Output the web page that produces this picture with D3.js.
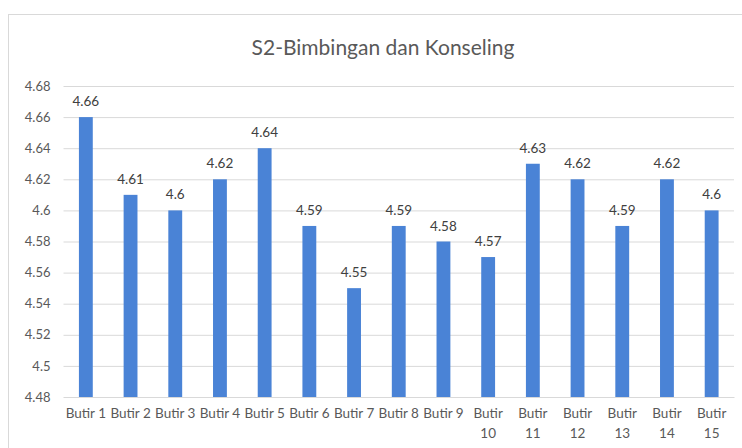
<!DOCTYPE html>
<html><head><meta charset="utf-8">
<script src="https://cdn.jsdelivr.net/npm/d3@7"></script>
<style>body{margin:0;background:#fff}svg{display:block}text{font-family:Lato,"Liberation Sans",sans-serif}</style>
</head><body>
<svg id="c" width="742" height="448"></svg>
<script>
const title = "S2-Bimbingan dan Konseling";
const categories = ["Butir 1","Butir 2","Butir 3","Butir 4","Butir 5","Butir 6","Butir 7","Butir 8","Butir 9","Butir 10","Butir 11","Butir 12","Butir 13","Butir 14","Butir 15"];
const values = [4.66,4.61,4.6,4.62,4.64,4.59,4.55,4.59,4.58,4.57,4.63,4.62,4.59,4.62,4.6];
const yTicks = [4.48,4.5,4.52,4.54,4.56,4.58,4.6,4.62,4.64,4.66,4.68];

const svg = d3.select("#c");
svg.append("rect").attr("x",8.5).attr("y",14.5).attr("width",760).attr("height",460)
  .attr("fill","#fff").attr("stroke","#d9d9d9");

const x = d3.scaleBand().domain(categories).range([63.5,734]).paddingInner(0.69).paddingOuter(0.345);
const y = d3.scaleLinear().domain([4.48,4.68]).range([397,86]);

svg.append("text").attr("x",383).attr("y",55).attr("text-anchor","middle")
  .attr("font-size",21).attr("fill","#595959").text(title);

const ga = svg.append("g").attr("transform","translate(63.5,0)")
  .call(d3.axisLeft(y).tickValues(yTicks).tickSize(-670.5).tickFormat(d=>d3.format("")(+d.toFixed(2))).tickPadding(13));
ga.select(".domain").remove();
ga.selectAll(".tick line").attr("stroke","#d9d9d9");
ga.selectAll(".tick text").attr("fill","#595959").attr("font-size",13).style("font-family","Lato,sans-serif");

svg.append("g").selectAll("rect").data(values).join("rect")
  .attr("x",(d,i)=>x(categories[i])).attr("width",x.bandwidth())
  .attr("y",d=>y(d)).attr("height",d=>y(4.48)-y(d)).attr("fill","#4a83d6");

svg.append("g").selectAll("text").data(values).join("text")
  .attr("x",(d,i)=>x(categories[i])+x.bandwidth()/2).attr("y",d=>y(d)-11)
  .attr("text-anchor","middle").attr("font-size",13.5).attr("fill","#404040")
  .text(d=>d3.format("")(d));

const gx = svg.append("g").attr("transform","translate(0,397)")
  .call(d3.axisBottom(x).tickSize(0).tickPadding(11));
gx.select(".domain").attr("stroke","#d9d9d9");
gx.selectAll(".tick text").attr("fill","#595959").attr("font-size",13.5).style("font-family","Lato,sans-serif")
  .each(function(d){
    const t = d3.select(this);
    if (this.getComputedTextLength() > x.step()) {
      const parts = d.split(" ");
      t.text(null);
      parts.forEach((p,k)=>t.append("tspan").attr("x",0).attr("dy",k===0?"0.71em":"1.5em").text(p));
    }
  });
</script>
</body></html>
